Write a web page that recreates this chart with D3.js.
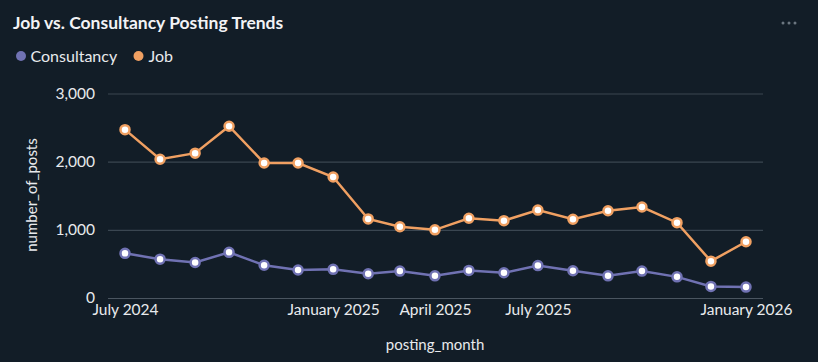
<!DOCTYPE html>
<html>
<head>
<meta charset="utf-8">
<script src="https://cdn.jsdelivr.net/npm/d3@7"></script>
<style>
  html, body { margin: 0; padding: 0; background: #121d27; }
  svg { display: block; }
</style>
</head>
<body>
<svg id="chart" width="818" height="362"></svg>
<script>
const months = ["2024-07","2024-08","2024-09","2024-10","2024-11","2024-12","2025-01","2025-02","2025-03","2025-04","2025-05","2025-06","2025-07","2025-08","2025-09","2025-10","2025-11","2025-12","2026-01"];
const jobValues = [2470, 2035, 2125, 2520, 1980, 1980, 1775, 1160, 1045, 1000, 1170, 1135, 1290, 1155, 1280, 1335, 1105, 540, 825];
const consultancyValues = [655, 570, 520, 670, 480, 410, 420, 355, 395, 325, 405, 370, 475, 400, 325, 395, 310, 170, 160];
const xTickLabels = ["July 2024", "January 2025", "April 2025", "July 2025", "January 2026"];
const xTickMonths = ["2024-07", "2025-01", "2025-04", "2025-07", "2026-01"];
const yTicks = [0, 1000, 2000, 3000];
const seriesNames = ["Consultancy", "Job"];
const colors = { Consultancy: "#7072b3", Job: "#f0a062" };

const parse = d3.timeParse("%Y-%m");
const svg = d3.select("#chart");
const font = "Lato, 'Open Sans', sans-serif";

const x = d3.scaleTime().domain([parse(months[0]), parse(months[months.length - 1])]).range([125, 746]);
const y = d3.scaleLinear().domain([0, 3000]).range([298, 93.5]);

// title
svg.append("text").attr("x", 13).attr("y", 28.5).attr("fill", "#f2f3f5")
  .attr("font-family", font).attr("font-weight", 700).attr("font-size", 17.5)
  .text("Job vs. Consultancy Posting Trends");

// menu dots
[783, 789, 795].forEach(cx => svg.append("circle").attr("cx", cx).attr("cy", 23).attr("r", 1.5).attr("fill", "#6b7680"));

// legend
const legend = svg.append("g");
const legendPos = [{ cx: 21, tx: 30.5 }, { cx: 138.5, tx: 148.5 }];
seriesNames.forEach((s, i) => {
  legend.append("circle").attr("cx", legendPos[i].cx).attr("cy", 56).attr("r", 5).attr("fill", colors[s]);
  legend.append("text").attr("x", legendPos[i].tx).attr("y", 61.5).attr("fill", "#e8eaed")
    .attr("font-family", font).attr("font-size", 16).text(s);
});

// y grid + labels
const yAxis = d3.axisLeft(y).tickValues(yTicks).tickFormat(d3.format(",")).tickSize(-(763 - 108)).tickPadding(13);
const yg = svg.append("g").attr("transform", "translate(108,0)").call(yAxis);
yg.select(".domain").remove();
yg.selectAll(".tick line").attr("stroke", d => d === 0 ? "#4a5560" : "#3a4651").attr("stroke-width", 1.2);
yg.selectAll(".tick text").attr("fill", "#e8eaed").attr("font-family", font).attr("font-size", 15.5);

// x axis
const xAxis = d3.axisBottom(x).tickValues(xTickMonths.map(parse))
  .tickFormat((d, i) => xTickLabels[i]).tickSize(0).tickPadding(6);
const xg = svg.append("g").attr("transform", "translate(0,298)").call(xAxis);
xg.select(".domain").remove();
xg.selectAll(".tick text").attr("fill", "#e8eaed").attr("font-family", font).attr("font-size", 15.5);

// axis titles
svg.append("text").attr("transform", "translate(37,195) rotate(-90)").attr("text-anchor", "middle")
  .attr("fill", "#e8eaed").attr("font-family", font).attr("font-size", 15).text("number_of_posts");
svg.append("text").attr("x", 435).attr("y", 350).attr("text-anchor", "middle")
  .attr("fill", "#e8eaed").attr("font-family", font).attr("font-size", 15).text("posting_month");

// series
const data = { Consultancy: consultancyValues, Job: jobValues };
const line = d3.line().x(d => x(d.date)).y(d => y(d.value));
seriesNames.forEach(s => {
  const pts = months.map((m, i) => ({ date: parse(m), value: data[s][i] }));
  svg.append("path").datum(pts).attr("d", line).attr("fill", "none")
    .attr("stroke", colors[s]).attr("stroke-width", 2.5);
  svg.append("g").selectAll("circle").data(pts).join("circle")
    .attr("cx", d => x(d.date)).attr("cy", d => y(d.value)).attr("r", 4.5)
    .attr("fill", "#ffffff").attr("stroke", colors[s]).attr("stroke-width", 2.5);
});
</script>
</body>
</html>
